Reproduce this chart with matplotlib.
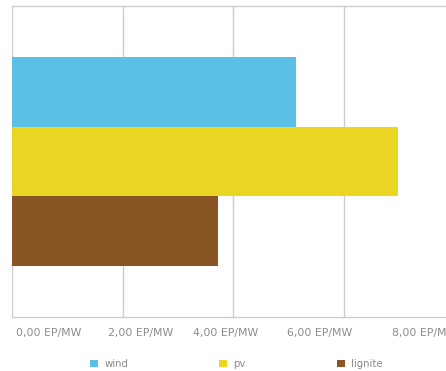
import matplotlib.pyplot as plt

# kosten je MW (EP/MW)
sources = ['wind', 'pv', 'lignite']
values = [5.13, 6.97, 3.72]
colors = ['#5bc0e6', '#ecd624', '#8a5524']
tick_values = [0, 2, 4, 6, 8]
tick_labels = ['0,00 EP/MW', '2,00 EP/MW', '4,00 EP/MW', '6,00 EP/MW', '8,00 EP/MW']

fig = plt.figure(figsize=(4.46, 3.71), dpi=100)
xmax = 8.2
ax = fig.add_axes([12/446, 54/371, xmax*55.35/446, 311/371])

pos = range(len(sources))
for p, v, c, lab in zip(pos, values, colors, sources):
    ax.barh(p, v, height=1.0, color=c, label=lab, zorder=3)

ax.set_xlim(0, xmax)
ax.set_ylim(2.5 + 0.73, -0.5 - 0.73)
ax.set_xticks(tick_values)
ax.set_xticklabels([])
ax.tick_params(length=0)
ax.set_yticks([])
ax.grid(axis='x', color='#d2c9c9', linewidth=1.0, zorder=0)
for s in ['left', 'right']:
    ax.spines[s].set_visible(False)
for s in ['top', 'bottom']:
    ax.spines[s].set_color('#d2c9c9')
    ax.spines[s].set_linewidth(1.0)

# axis labels sit on an even spacing of their own
label_x = [16, 108, 193, 287, 392]
for x, t in zip(label_x, tick_labels):
    fig.text(x/446, 1 - 333/371, t, fontsize=7.8, color='#8c8c8c',
             ha='left', va='center')

leg = fig.legend(loc='center left', bbox_to_anchor=(90/446, 1 - 364/371),
                 ncol=3, frameon=False, fontsize=7.3, handlelength=0.8,
                 handleheight=0.8, handletextpad=0.6, columnspacing=9.0,
                 borderaxespad=0, borderpad=0)
for t in leg.get_texts():
    t.set_color('#8c8c8c')

fig.savefig('out.png', dpi=100)
